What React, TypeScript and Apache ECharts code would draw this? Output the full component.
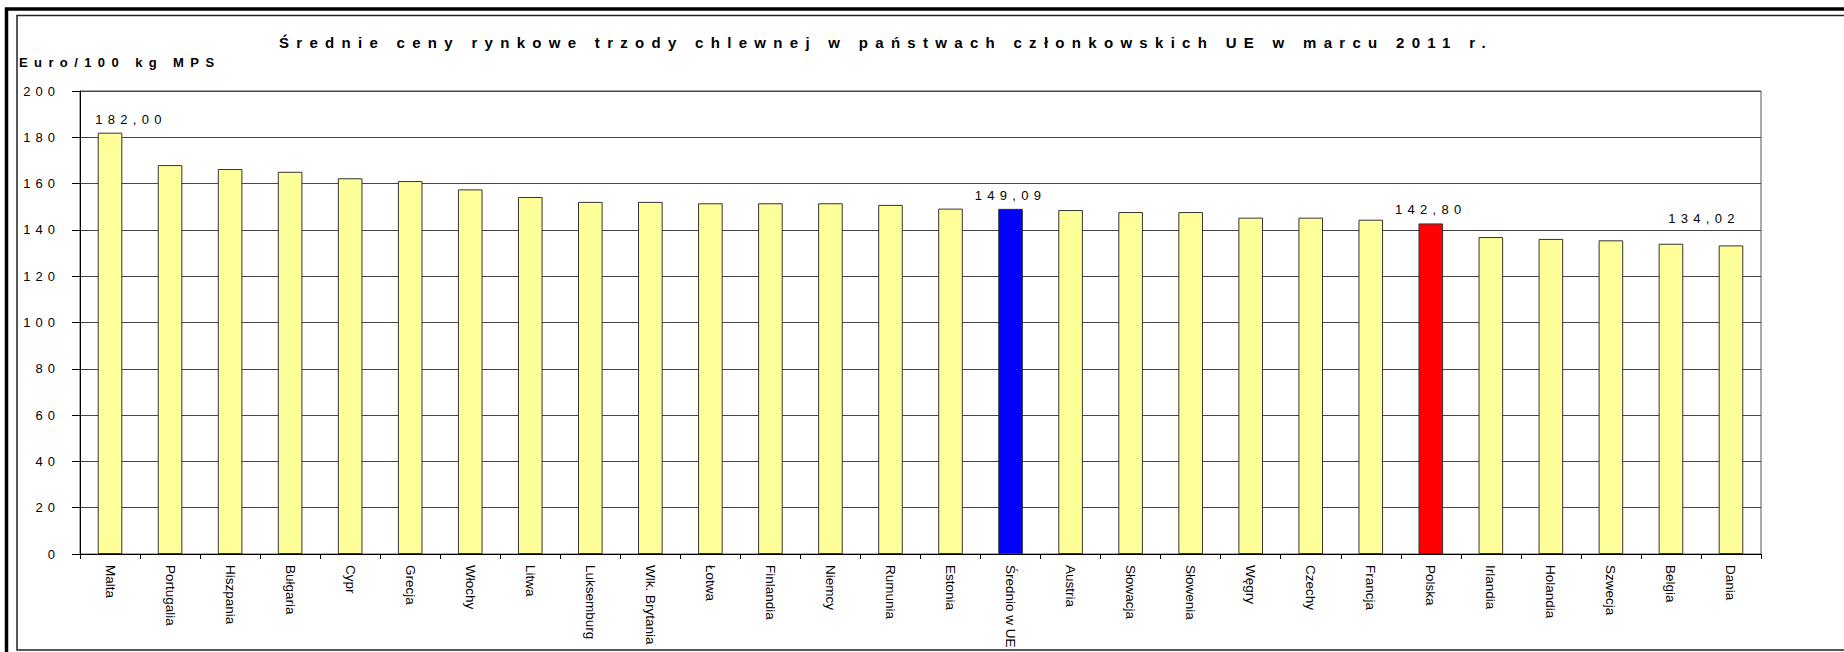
import React, { useEffect, useRef } from 'react';
import * as echarts from 'echarts';

const TITLE = 'Średnie ceny rynkowe trzody chlewnej w państwach członkowskich UE w marcu 2011 r.';
const UNIT = 'Euro/100 kg MPS';

const categories = [
  'Malta', 'Portugalia', 'Hiszpania', 'Bułgaria', 'Cypr', 'Grecja', 'Włochy', 'Litwa',
  'Luksemburg', 'Wlk. Brytania', 'Łotwa', 'Finlandia', 'Niemcy', 'Rumunia', 'Estonia',
  'Średnio w UE', 'Austria', 'Słowacja', 'Słowenia', 'Węgry', 'Czechy', 'Francja',
  'Polska', 'Irlandia', 'Holandia', 'Szwecja', 'Belgia', 'Dania',
];

const prices = [
  182.0, 168.0, 166.3, 165.1, 162.3, 161.1, 157.5, 154.2,
  152.1, 152.1, 151.5, 151.5, 151.5, 150.8, 149.2,
  149.09, 148.6, 147.7, 147.7, 145.3, 145.3, 144.4,
  142.8, 136.9, 136.1, 135.5, 134.02, 133.3,
];

const labelledCategories = ['Malta', 'Średnio w UE', 'Polska', 'Belgia'];

const yMin = 0;
const yMax = 200;
const yStep = 20;

const FONT = '"Liberation Sans", Arial, Helvetica, sans-serif';

export default function App() {
  const ref = useRef<HTMLDivElement>(null);

  useEffect(() => {
    const el = ref.current;
    if (!el) return;
    const chart = echarts.init(el, null, { renderer: 'svg' });

    const barColor = (c: string) =>
      c === 'Średnio w UE' ? '#0000FF' : c === 'Polska' ? '#FF0000' : '#FFFF99';
    const labelOffset = (c: string): [number, number] =>
      c === 'Malta' ? [21, 0] : c === 'Belgia' ? [33, -12] : [0, 0];

    const data = categories.map((c, i) => ({
      value: prices[i],
      itemStyle: { color: barColor(c) },
      label: { show: labelledCategories.includes(c), offset: labelOffset(c) },
    }));

    chart.setOption({
      animation: false,
      tooltip: { show: false },
      grid: {
        left: 80,
        right: 83,
        top: 91,
        bottom: 98,
        containLabel: false,
        outerBoundsMode: 'none',
        show: true,
        borderColor: '#555',
        borderWidth: 1,
      },
      graphic: [
        {
          type: 'rect',
          silent: true,
          shape: { x: 6.5, y: 9, width: 1900, height: 700 },
          style: { fill: 'none', stroke: '#000', lineWidth: 3.5 },
        },
        {
          type: 'rect',
          silent: true,
          shape: { x: 17, y: 15.5, width: 1900, height: 634.5 },
          style: { fill: 'none', stroke: '#222', lineWidth: 1.5 },
        },
        {
          type: 'text',
          silent: true,
          x: 886,
          y: 42,
          style: {
            text: TITLE,
            fontFamily: FONT,
            fontWeight: 'bold',
            fontSize: 15,
            fill: '#000',
            textAlign: 'center',
            textVerticalAlign: 'middle',
          },
        },
        {
          type: 'text',
          silent: true,
          x: 19,
          y: 62,
          style: {
            text: UNIT,
            fontFamily: FONT,
            fontWeight: 'bold',
            fontSize: 13,
            fill: '#000',
            textAlign: 'left',
            textVerticalAlign: 'middle',
          },
        },
      ],
      xAxis: {
        type: 'category',
        data: categories,
        axisLine: { show: true, lineStyle: { color: '#000', width: 1 } },
        axisTick: { show: true, length: 5, lineStyle: { color: '#000' } },
        axisLabel: {
          interval: 0,
          rotate: -90,
          margin: 11,
          fontFamily: FONT,
          fontSize: 13.5,
          color: '#000',
        },
        splitLine: { show: false },
      },
      yAxis: {
        type: 'value',
        min: yMin,
        max: yMax,
        interval: yStep,
        axisLine: { show: true, lineStyle: { color: '#000', width: 1 } },
        axisTick: { show: true, length: 8, lineStyle: { color: '#000' } },
        axisLabel: {
          margin: 20,
          fontFamily: FONT,
          fontSize: 13,
          color: '#000',
        },
        splitLine: { show: true, lineStyle: { color: '#444', width: 1 } },
      },
      series: [
        {
          type: 'bar',
          data,
          barWidth: '41%',
          silent: true,
          emphasis: { disabled: true },
          itemStyle: { borderColor: '#333', borderWidth: 1 },
          label: {
            show: false,
            position: 'top',
            distance: 7,
            fontFamily: FONT,
            fontSize: 13,
            color: '#000',
            formatter: (p: any) => Number(p.value).toFixed(2).replace('.', ','),
          },
        },
      ],
    });

    const applySpacing = () => {
      el.querySelectorAll('text').forEach((t) => {
        const s = (t.textContent || '').trim();
        let ls = 0;
        if (s === TITLE) ls = 7.3;
        else if (s === UNIT) ls = 6.4;
        else if (/^\d+$/.test(s)) ls = 5;
        else if (/^\d+,\d\d$/.test(s)) ls = 5.3;
        if (ls) {
          t.setAttribute('letter-spacing', ls + 'px');
          (t as SVGTextElement).style.letterSpacing = ls + 'px';
        }
      });
    };
    applySpacing();
    chart.on('finished', applySpacing);
    const raf = requestAnimationFrame(applySpacing);

    return () => {
      cancelAnimationFrame(raf);
      chart.dispose();
    };
  }, []);

  return (
    <div
      ref={ref}
      style={{ position: 'absolute', left: 0, top: 0, width: 1844, height: 652, background: '#fff' }}
    />
  );
}
